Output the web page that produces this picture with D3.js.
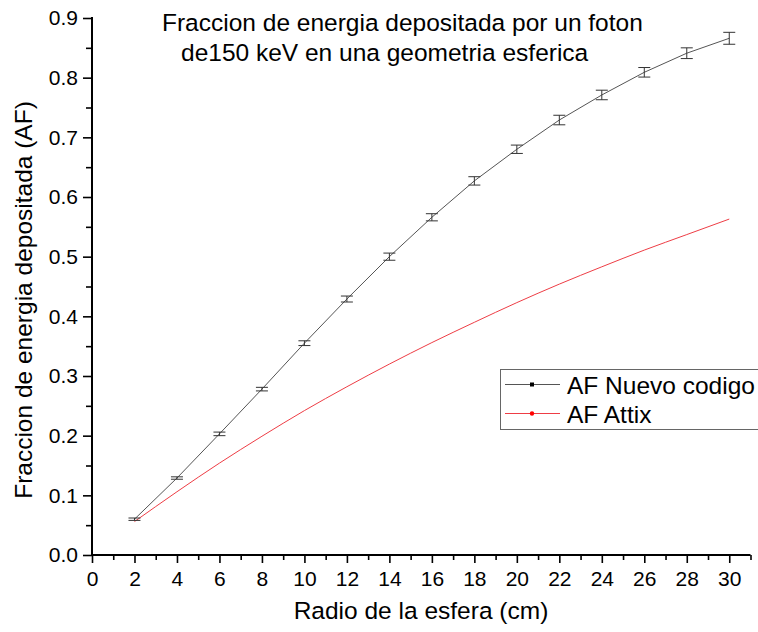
<!DOCTYPE html>
<html>
<head>
<meta charset="utf-8">
<script src="https://cdn.jsdelivr.net/npm/d3@7"></script>
<style>
  html, body { margin: 0; padding: 0; background: #fff; }
  svg { display: block; font-family: Arial, "Liberation Sans", sans-serif; }
</style>
</head>
<body>
<svg id="chart" width="758" height="632"></svg>
<script>
// Sphere radius (cm)
const radios = [2, 4, 6, 8, 10, 12, 14, 16, 18, 20, 22, 24, 26, 28, 30];
// Absorbed fraction from the new Monte Carlo code, with its uncertainty
const afNuevo = [0.060, 0.129, 0.203, 0.278, 0.355, 0.429, 0.500, 0.566, 0.627, 0.680, 0.729, 0.771, 0.809, 0.841, 0.866];
const afNuevoErr = [0.002, 0.002, 0.003, 0.003, 0.004, 0.005, 0.006, 0.006, 0.007, 0.007, 0.008, 0.008, 0.008, 0.009, 0.010];
// Reference absorbed fraction (Attix)
const afAttix = [0.056, 0.106, 0.154, 0.199, 0.242, 0.282, 0.320, 0.356, 0.390, 0.423, 0.454, 0.483, 0.511, 0.537, 0.563];

const xTicks = d3.range(0, 31, 2);
const yTicks = d3.range(0, 0.91, 0.1);
const titulo = ["Fraccion de energia depositada por un foton", "de150 keV en una geometria esferica"];
const serieNombres = ["AF Nuevo codigo", "AF Attix"];

const svg = d3.select("#chart");
const mLeft = 92, mRight = 750.5, mTop = 18, mBottom = 555;

const x = d3.scaleLinear().domain([0, 31]).range([mLeft, mRight]);
const y = d3.scaleLinear().domain([0, 0.9]).range([mBottom, mTop]);

// Axes: major ticks with labels, minor ticks between
const xMinor = d3.range(1, 32, 2);
const yMinor = d3.range(0.05, 0.9, 0.1);

const gx = svg.append("g").attr("transform", `translate(0,${mBottom})`);
gx.call(d3.axisBottom(x).tickValues(xMinor).tickSize(5).tickFormat(""));
gx.append("g").call(d3.axisBottom(x).tickValues(xTicks).tickSize(8).tickPadding(8).tickFormat(d3.format("d")));
gx.selectAll(".domain").remove();
gx.selectAll("line").attr("stroke", "#000").attr("stroke-width", 1.6);
gx.selectAll("text").attr("font-size", 21).attr("fill", "#000");

const gy = svg.append("g").attr("transform", `translate(${mLeft},0)`);
gy.call(d3.axisLeft(y).tickValues(yMinor).tickSize(6).tickFormat(""));
gy.append("g").call(d3.axisLeft(y).tickValues(yTicks).tickSize(9).tickPadding(5).tickFormat(d3.format(".1f")));
gy.selectAll(".domain").remove();
gy.selectAll("line").attr("stroke", "#000").attr("stroke-width", 1.6);
gy.selectAll("text").attr("font-size", 21).attr("fill", "#000");

// Axis lines
svg.append("line").attr("x1", mLeft).attr("x2", mLeft).attr("y1", y(0.9) - 1).attr("y2", mBottom + 1)
  .attr("stroke", "#000").attr("stroke-width", 2);
svg.append("line").attr("x1", mLeft - 1).attr("x2", mRight).attr("y1", mBottom).attr("y2", mBottom)
  .attr("stroke", "#000").attr("stroke-width", 2);

// Series lines
const linea = d3.line().x((d, i) => x(radios[i])).y(d => y(d));
svg.append("path").datum(afAttix).attr("d", linea.curve(d3.curveMonotoneX))
  .attr("fill", "none").attr("stroke", "#ee3d45").attr("stroke-width", 1);
svg.append("path").datum(afNuevo).attr("d", linea.curve(d3.curveLinear))
  .attr("fill", "none").attr("stroke", "#555").attr("stroke-width", 1);

// Error bars
const eb = svg.append("g").attr("stroke", "#333").attr("stroke-width", 1).attr("fill", "none");
afNuevo.forEach((v, i) => {
  const cx = x(radios[i]), y1 = y(v + afNuevoErr[i]), y0 = y(v - afNuevoErr[i]);
  eb.append("line").attr("x1", cx).attr("x2", cx).attr("y1", y1).attr("y2", y0);
  eb.append("line").attr("x1", cx - 6).attr("x2", cx + 6).attr("y1", y1).attr("y2", y1);
  eb.append("line").attr("x1", cx - 6).attr("x2", cx + 6).attr("y1", y0).attr("y2", y0);
});

// Title
svg.append("text").attr("x", 162).attr("y", 31).attr("font-size", 24.5).attr("fill", "#000").text(titulo[0]);
svg.append("text").attr("x", 181).attr("y", 61).attr("font-size", 24.5).attr("fill", "#000").text(titulo[1]);

// Axis titles
svg.append("text").attr("x", 421).attr("y", 619).attr("text-anchor", "middle")
  .attr("font-size", 24.5).attr("fill", "#000").text("Radio de la esfera (cm)");
svg.append("text").attr("transform", `translate(32,300) rotate(-90)`)
  .attr("text-anchor", "middle").attr("font-size", 24.5).attr("fill", "#000")
  .text("Fraccion de energia depositada (AF)");

// Legend
const lg = svg.append("g");
lg.append("rect").attr("x", 500.5).attr("y", 369.5).attr("width", 270).attr("height", 60)
  .attr("fill", "#fff").attr("stroke", "#666").attr("stroke-width", 1);
const colores = ["#555", "#ee3d45"];
serieNombres.forEach((n, i) => {
  const ly = 384.5 + i * 29;
  lg.append("line").attr("x1", 505).attr("x2", 560).attr("y1", ly).attr("y2", ly)
    .attr("stroke", colores[i]).attr("stroke-width", 1);
  if (i === 0) {
    lg.append("rect").attr("x", 530).attr("y", ly - 2).attr("width", 4).attr("height", 4).attr("fill", "#000");
  } else {
    lg.append("circle").attr("cx", 532).attr("cy", ly).attr("r", 2.2).attr("fill", "#f00");
  }
  lg.append("text").attr("x", 567).attr("y", ly + 9).attr("font-size", 24.5).attr("fill", "#000").text(n);
});
</script>
</body>
</html>
